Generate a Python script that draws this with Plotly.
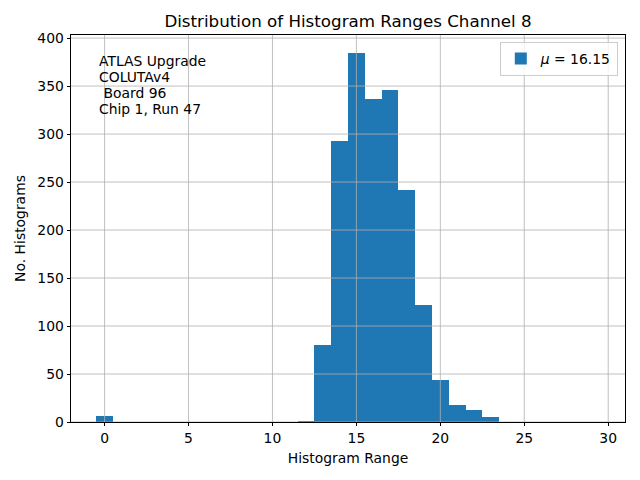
import plotly.graph_objects as go

bin_centers = list(range(0, 30))
counts = [6, 0, 0, 0, 0, 0, 0, 0, 0, 0, 0, 0, 1, 80, 293, 384, 337, 346, 242, 122,
          44, 18, 12, 5, 0, 0, 0, 0, 0, 0]
x_ticks = [0, 5, 10, 15, 20, 25, 30]
y_ticks = [0, 50, 100, 150, 200, 250, 300, 350, 400]
info_lines = ["ATLAS Upgrade", "COLUTAv4", "\u00a0Board 96", "Chip 1, Run 47"]
legend_label = "<i>μ</i> = 16.15"
title = "Distribution of Histogram Ranges Channel 8"

FONT = "DejaVu Sans"
fig = go.Figure()
fig.add_trace(go.Bar(x=bin_centers, y=counts, width=1.0, marker=dict(color="#1f77b4", line=dict(width=0)),
                     name=legend_label, showlegend=True))

shapes = []
for t in x_ticks:
    shapes.append(dict(type="line", xref="x", yref="paper", x0=t, x1=t, y0=0, y1=1,
                       line=dict(color="#b0b0b0", width=0.8), layer="above"))
for t in y_ticks:
    shapes.append(dict(type="line", xref="paper", yref="y", x0=0, x1=1, y0=t, y1=t,
                       line=dict(color="#b0b0b0", width=0.8), layer="above"))

annotations = []
for i, line in enumerate(info_lines):
    annotations.append(dict(text=line, xref="paper", yref="paper", x=0.047, y=0.932 - i * 0.0413,
                            xanchor="left", yanchor="middle", showarrow=False,
                            font=dict(family=FONT, size=13.9, color="black")))

fig.update_layout(
    width=640, height=480,
    margin=dict(l=71, r=15, t=35, b=58),
    paper_bgcolor="white", plot_bgcolor="white",
    bargap=0,
    title=dict(text=title, x=(71 + 625) / 2 / 640, xanchor="center", y=1 - 21 / 480, yanchor="middle",
               font=dict(family=FONT, size=16.7, color="black")),
    font=dict(family=FONT, size=13.9, color="black"),
    xaxis=dict(range=[-2, 31], tickvals=x_ticks, ticktext=[str(v) for v in x_ticks],
               showgrid=False, zeroline=False, showline=True, mirror=True, linecolor="black", linewidth=0.8,
               ticks="outside", ticklen=3.5, tickwidth=0.8, tickcolor="black",
               title=dict(text="Histogram Range", font=dict(size=13.9), standoff=8)),
    yaxis=dict(range=[0, 403.2], tickvals=y_ticks, ticktext=[str(v) for v in y_ticks],
               showgrid=False, zeroline=False, showline=True, mirror=True, linecolor="black", linewidth=0.8,
               ticks="outside", ticklen=3.5, tickwidth=0.8, tickcolor="black",
               title=dict(text="No. Histograms", font=dict(size=13.9), standoff=8)),
    legend=dict(x=0.987, y=0.982, xanchor="right", yanchor="top", bgcolor="rgba(255,255,255,0.8)",
                bordercolor="#cccccc", borderwidth=1, font=dict(family=FONT, size=13.9)),
    shapes=shapes,
    annotations=annotations,
)

fig.write_html("out.html", config={"displayModeBar": False},
               post_script="document.body.style.margin='0';document.body.style.padding='0';")
